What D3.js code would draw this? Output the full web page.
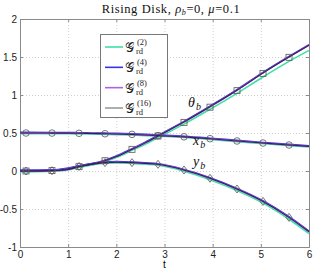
<!DOCTYPE html>
<html lang="en">
<head>
<meta charset="UTF-8">
<title>Rising Disk</title>
<script src="https://d3js.org/d3.v7.min.js"></script>
<style>
  * { margin: 0; padding: 0; box-sizing: border-box; }
  html, body { width: 314px; height: 271px; overflow: clip; background: #fff; }
  svg { display: block; }
  .tick text { font-family: "Liberation Sans", Arial, sans-serif; font-size: 10px; fill: #222; }
</style>
</head>
<body>
<svg id="chart" width="314" height="271"></svg>
<script>
// time samples for the curves
const tVals = [0, 0.125, 0.664, 1.0, 1.225, 1.5, 1.765, 2.0, 2.325, 2.6, 2.865, 3.405, 3.945, 4.505, 5.045, 5.585, 6]

// G_rd^(4), (8), (16) practically coincide
const thetaFine = [0, 0, 0.005, 0.02, 0.057, 0.09, 0.135, 0.19, 0.285, 0.37, 0.46, 0.645, 0.845, 1.062, 1.29, 1.5, 1.655]
const xbFine = [0.5, 0.5, 0.499, 0.498, 0.496, 0.493, 0.49, 0.487, 0.481, 0.474, 0.466, 0.449, 0.424, 0.395, 0.368, 0.342, 0.324]
const ybFine = [0, 0, 0.004, 0.03, 0.06, 0.09, 0.11, 0.115, 0.11, 0.1, 0.088, 0.013, -0.096, -0.237, -0.4, -0.61, -0.8]

// G_rd^(2) drifts a little
const thetaCoarse = [0, 0, 0.005, 0.02, 0.056, 0.088, 0.132, 0.186, 0.279, 0.36, 0.448, 0.625, 0.82, 1.03, 1.245, 1.45, 1.595]
const ybCoarse = [0, 0, 0.004, 0.03, 0.06, 0.09, 0.109, 0.113, 0.107, 0.096, 0.083, 0.005, -0.106, -0.25, -0.415, -0.627, -0.815]

// marker samples (reference solution)
const markT = [0.125, 0.664, 1.225, 1.765, 2.325, 2.865, 3.405, 3.945, 4.505, 5.045, 5.585]
const markTheta = [0, 0.005, 0.057, 0.135, 0.285, 0.46, 0.64, 0.84, 1.057, 1.285, 1.496]
const markXb = [0.5, 0.499, 0.496, 0.49, 0.482, 0.465, 0.45, 0.425, 0.395, 0.368, 0.342]
const markYb = [0, 0.004, 0.06, 0.11, 0.11, 0.088, 0.013, -0.096, -0.237, -0.4, -0.61]

const xTicks = [0, 1, 2, 3, 4, 5, 6]
const yTicks = [-1, -0.5, 0, 0.5, 1, 1.5, 2]
const legendKeys = ["2", "4", "8", "16"]
const legendColors = ["#3ee0a6", "#3535dd", "#b060e8", "#9a9a9a"]

const W = 314, H = 271
const m = { l: 20, r: 5, t: 19, b: 24 }
const svg = d3.select("#chart")

const x = d3.scaleLinear().domain([0, 6]).range([m.l, W - m.r])
const y = d3.scaleLinear().domain([-1, 2]).range([H - m.b, m.t])

// grid
const grid = svg.append("g").attr("stroke", "#d0d0d0").attr("stroke-dasharray", "1,2").attr("stroke-width", 1)
grid.selectAll(".gx").data(xTicks.slice(1, -1)).join("line")
    .attr("x1", d => x(d) + 0.5).attr("x2", d => x(d) + 0.5)
    .attr("y1", m.t).attr("y2", H - m.b)
grid.selectAll(".gy").data(yTicks.slice(1, -1)).join("line")
    .attr("y1", d => Math.round(y(d)) + 0.5).attr("y2", d => Math.round(y(d)) + 0.5)
    .attr("x1", m.l).attr("x2", W - m.r)

// axes
svg.append("g").attr("transform", `translate(0,${H - m.b})`)
    .call(d3.axisBottom(x).tickValues(xTicks).tickSize(-3).tickPadding(4).tickFormat(d3.format("d")))
svg.append("g").attr("transform", `translate(${m.l},0)`)
    .call(d3.axisLeft(y).tickValues(yTicks).tickSize(-3).tickPadding(3).tickFormat(d => String(d)))
svg.append("g").attr("transform", `translate(0,${m.t})`)
    .call(d3.axisTop(x).tickValues(xTicks).tickSize(-3).tickFormat(""))
svg.append("g").attr("transform", `translate(${W - m.r},0)`)
    .call(d3.axisRight(y).tickValues(yTicks).tickSize(-3).tickFormat(""))
svg.selectAll(".domain, .tick line").attr("stroke", "#8a8a8a")

// curves
const line = d3.line().x(d => x(d[0])).y(d => y(d[1])).curve(d3.curveMonotoneX)
const series = (vals) => tVals.map((t, i) => [t, vals[i]])
const curves = svg.append("g").attr("fill", "none")

const drawSet = (th, xb, yb, color, width, dy) => {
    ;[th, xb, yb].forEach(v => {
        curves.append("path").attr("d", line(series(v)))
            .attr("stroke", color).attr("stroke-width", width)
            .attr("transform", `translate(0,${dy})`)
    })
}
drawSet(thetaCoarse, xbFine, ybCoarse, legendColors[0], 1.6, 0.6)
drawSet(thetaFine, xbFine, ybFine, legendColors[1], 1.6, -0.6)
drawSet(thetaFine, xbFine, ybFine, legendColors[2], 1.4, 0)
drawSet(thetaFine, xbFine, ybFine, "#3a1d55", 1.1, 0)

// markers
const mk = svg.append("g").attr("fill", "none").attr("stroke", "#555").attr("stroke-width", 0.8)
mk.selectAll(".sq").data(markT.map((t, i) => [t, markTheta[i]])).join("rect")
    .attr("x", d => x(d[0]) - 3).attr("y", d => y(d[1]) - 3).attr("width", 6).attr("height", 6)
mk.selectAll(".ci").data(markT.map((t, i) => [t, markXb[i]])).join("circle")
    .attr("cx", d => x(d[0])).attr("cy", d => y(d[1])).attr("r", 3.3)
mk.selectAll(".di").data(markT.map((t, i) => [t, markYb[i]])).join("path")
    .attr("d", d => {
        const cx = x(d[0]), cy = y(d[1])
        return `M${cx},${cy - 4}L${cx + 3},${cy}L${cx},${cy + 4}L${cx - 3},${cy}Z`
    })

// curve labels
const lab = (tx, ty, sym) => {
    const t = svg.append("text").attr("x", tx).attr("y", ty)
        .attr("font-family", "'Liberation Serif', 'DejaVu Serif', serif").attr("font-style", "italic")
        .attr("font-size", 14).attr("fill", "#111")
    t.append("tspan").text(sym)
    t.append("tspan").attr("font-size", 10).attr("dx", 1).attr("dy", 3).text("b")
}
lab(188, 107, "θ")
lab(193, 145, "x")
lab(193, 166, "y")

// title
const title = svg.append("text").attr("x", 171).attr("y", 13).attr("text-anchor", "middle")
    .attr("font-family", "'Liberation Serif', 'Times New Roman', serif").attr("font-size", 12.5)
    .attr("letter-spacing", 0.6).attr("fill", "#111")
title.append("tspan").text("Rising Disk, ")
title.append("tspan").attr("font-style", "italic").text("ρ")
title.append("tspan").attr("font-style", "italic").attr("font-size", 8).attr("dy", 2).text("b")
title.append("tspan").attr("dy", -2).text("=0, ")
title.append("tspan").attr("font-style", "italic").text("μ")
title.append("tspan").text("=0.1")

// x label
svg.append("text").attr("x", x(3)).attr("y", 268).attr("text-anchor", "middle")
    .attr("font-family", "'Liberation Sans', Arial, sans-serif").attr("font-size", 10).text("t")

// legend
const lg = svg.append("g")
lg.append("rect").attr("x", 100.5).attr("y", 34.5).attr("width", 67).attr("height", 83)
    .attr("fill", "#fff").attr("stroke", "#777").attr("stroke-width", 1)
const ly = d3.scalePoint().domain(legendKeys).range([47, 108])
legendKeys.forEach((k, i) => {
    const yy = ly(k)
    lg.append("line").attr("x1", 105).attr("x2", 123).attr("y1", yy).attr("y2", yy)
        .attr("stroke", legendColors[i]).attr("stroke-width", 1.6)
    lg.append("text").attr("x", 125).attr("y", yy + 5)
        .attr("font-family", "'DejaVu Serif', 'Liberation Serif', serif").attr("fill", "#222").attr("font-size", 13)
        .text("𝒢")
    lg.append("text").attr("x", 137).attr("y", yy - 2)
        .attr("font-family", "'Liberation Serif', serif").attr("font-size", 8.5).attr("fill", "#222").text(`(${k})`)
    lg.append("text").attr("x", 136).attr("y", yy + 7)
        .attr("font-family", "'Liberation Serif', serif").attr("font-size", 8.5).attr("fill", "#222").text("rd")
})
</script>
</body>
</html>
